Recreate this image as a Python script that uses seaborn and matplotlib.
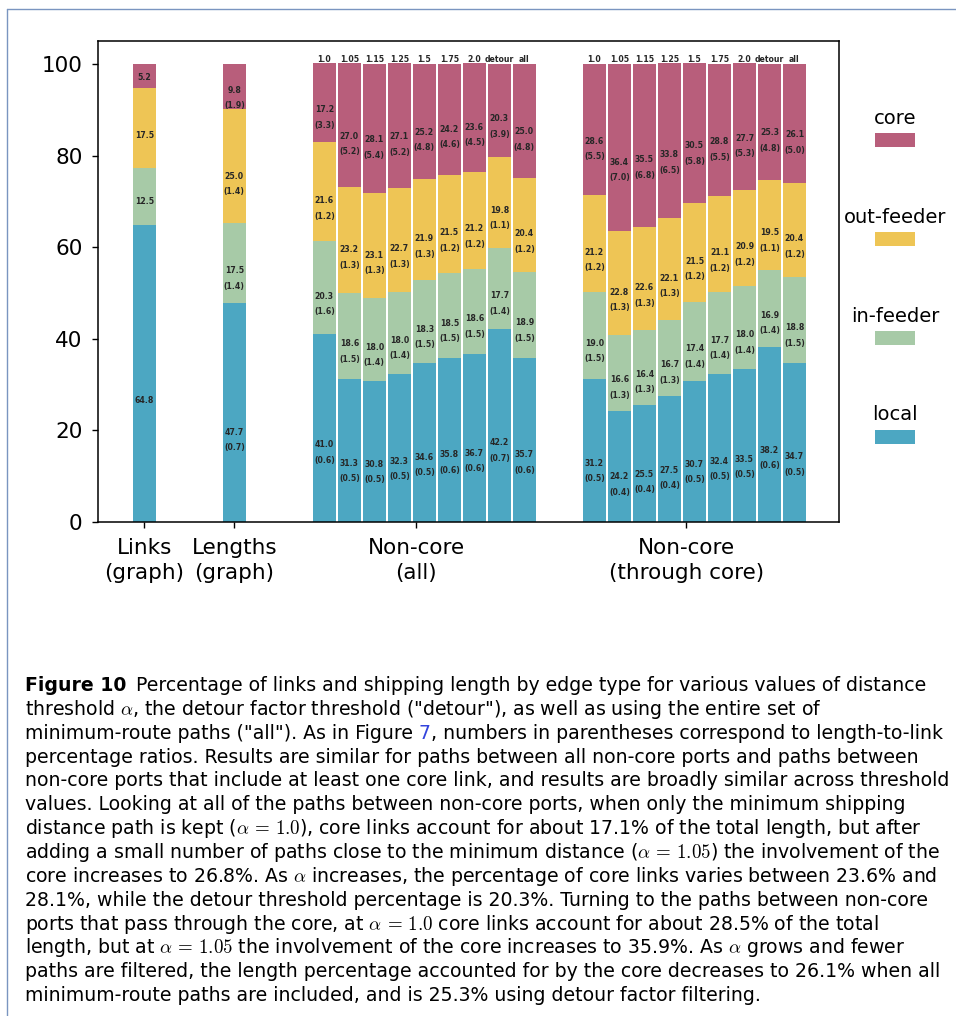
import matplotlib.pyplot as plt
import numpy as np
import pandas as pd
import seaborn as sns
from matplotlib.lines import Line2D
from matplotlib.patches import Rectangle

edge_types = ["local", "in-feeder", "out-feeder", "core"]
edge_colors = ["#4ca7c2", "#a7caa7", "#eec555", "#b85e7b"]

group_labels = ["Links\n(graph)", "Lengths\n(graph)", "Non-core\n(all)", "Non-core\n(through core)"]
thresholds = ["1.0", "1.05", "1.15", "1.25", "1.5", "1.75", "2.0", "detour", "all"]

# graph-level shares (local, in-feeder, out-feeder, core)
links_pct = [64.8, 12.5, 17.5, 5.2]
lengths_pct = [47.7, 17.5, 25.0, 9.8]
lengths_ratio = [0.7, 1.4, 1.4, 1.9]

# paths between all non-core ports
all_local = [41.0, 31.3, 30.8, 32.3, 34.6, 35.8, 36.7, 42.2, 35.7]
all_local_ratio = [0.6, 0.5, 0.5, 0.5, 0.5, 0.6, 0.6, 0.7, 0.6]
all_in = [20.3, 18.6, 18.0, 18.0, 18.3, 18.5, 18.6, 17.7, 18.9]
all_in_ratio = [1.6, 1.5, 1.4, 1.4, 1.5, 1.5, 1.5, 1.4, 1.5]
all_out = [21.6, 23.2, 23.1, 22.7, 21.9, 21.5, 21.2, 19.8, 20.4]
all_out_ratio = [1.2, 1.3, 1.3, 1.3, 1.3, 1.2, 1.2, 1.1, 1.2]
all_core = [17.2, 27.0, 28.1, 27.1, 25.2, 24.2, 23.6, 20.3, 25.0]
all_core_ratio = [3.3, 5.2, 5.4, 5.2, 4.8, 4.6, 4.5, 3.9, 4.8]

# paths between non-core ports through the core
thr_local = [31.2, 24.2, 25.5, 27.5, 30.7, 32.4, 33.5, 38.2, 34.7]
thr_local_ratio = [0.5, 0.4, 0.4, 0.4, 0.5, 0.5, 0.5, 0.6, 0.5]
thr_in = [19.0, 16.6, 16.4, 16.7, 17.4, 17.7, 18.0, 16.9, 18.8]
thr_in_ratio = [1.5, 1.3, 1.3, 1.3, 1.4, 1.4, 1.4, 1.4, 1.5]
thr_out = [21.2, 22.8, 22.6, 22.1, 21.5, 21.1, 20.9, 19.5, 20.4]
thr_out_ratio = [1.2, 1.3, 1.3, 1.3, 1.2, 1.2, 1.2, 1.1, 1.2]
thr_core = [28.6, 36.4, 35.5, 33.8, 30.5, 28.8, 27.7, 25.3, 26.1]
thr_core_ratio = [5.5, 7.0, 6.8, 6.5, 5.8, 5.5, 5.3, 4.8, 5.0]

# bar layout
n_thr = len(thresholds)
all_start, thr_start, tick_shift = 7.2, 18.0, 3.68
positions = np.concatenate([[0.0, 3.6], all_start + np.arange(n_thr), thr_start + np.arange(n_thr)])
tick_pos = [0.0, 3.6, all_start + tick_shift, thr_start + tick_shift]

pct = pd.DataFrame(
    np.vstack([
        [links_pct, lengths_pct],
        np.column_stack([all_local, all_in, all_out, all_core]),
        np.column_stack([thr_local, thr_in, thr_out, thr_core]),
    ]),
    columns=edge_types,
)
ratio = pd.DataFrame(
    np.vstack([
        [[np.nan] * 4, lengths_ratio],
        np.column_stack([all_local_ratio, all_in_ratio, all_out_ratio, all_core_ratio]),
        np.column_stack([thr_local_ratio, thr_in_ratio, thr_out_ratio, thr_core_ratio]),
    ]),
    columns=edge_types,
)
tops = pct.cumsum(axis=1)

sns.set_style("ticks")
plt.rcParams["font.family"] = ["DejaVu Sans"]
plt.rcParams["mathtext.fontset"] = "cm"
plt.rcParams["text.color"] = "black"
plt.rcParams["xtick.color"] = "black"
plt.rcParams["ytick.color"] = "black"
plt.rcParams["axes.edgecolor"] = "black"

W, H = 956, 1016
fig = plt.figure(figsize=(W / 100, H / 100), dpi=100)
ax = fig.add_axes([97.7 / W, 1 - 522 / H, (839 - 97.7) / W, (522 - 41) / H])

# stacked bars: draw cumulative tops from the highest layer down
for etype, color in reversed(list(zip(edge_types, edge_colors))):
    sns.barplot(x=positions, y=tops[etype].values, native_scale=True, width=0.92,
                color=color, saturation=1, errorbar=None, linewidth=0, ax=ax)

lab_kw = dict(ha="center", va="center", fontsize=5.6, fontweight="bold", color="#262626")
for i, x in enumerate(positions):
    for etype in edge_types:
        h = pct.loc[i, etype]
        y = tops.loc[i, etype] - h + 0.41 * h
        ax.text(x, y, f"{h:.1f}", **lab_kw)
        if not np.isnan(ratio.loc[i, etype]):
            ax.text(x, y - 3.4, f"({ratio.loc[i, etype]:.1f})", **lab_kw)
    if i >= 2:
        ax.text(x, 101, thresholds[(i - 2) % n_thr], **lab_kw)

ax.set_xlim(-1.86, 27.78)
ax.set_ylim(0, 105)
ax.set_yticks([0, 20, 40, 60, 80, 100])
ax.set_xticks(tick_pos)
ax.set_xticklabels(group_labels, linespacing=1.3)
ax.tick_params(labelsize=15.5, length=4.5, width=1)
ax.tick_params(axis="x", pad=7)
ax.tick_params(axis="y", pad=6.5)
for side in ["top", "right", "left", "bottom"]:
    ax.spines[side].set_visible(True)
    ax.spines[side].set_linewidth(1.1)

# legend: label above a colour swatch
def fxy(px, py):
    return px / W, 1 - py / H

for k, (etype, color) in enumerate(reversed(list(zip(edge_types, edge_colors)))):
    ty = 118 + 99 * k
    fig.text(*fxy(895, ty), etype, ha="center", va="center", fontsize=14)
    fig.add_artist(Rectangle(fxy(875, ty + 29), 40 / W, 14 / H, transform=fig.transFigure,
                             facecolor=color, edgecolor="none"))

# page border
border = "#7a95c0"
fig.add_artist(Line2D([7 / W, 1], [1 - 9 / H] * 2, color=border, lw=1, transform=fig.transFigure))
fig.add_artist(Line2D([7 / W] * 2, [0, 1 - 9 / H], color=border, lw=1, transform=fig.transFigure))

# caption
cap_font = dict(fontsize=13.6, family="DejaVu Sans")
cap_kw = dict(va="baseline", color="black", **cap_font)
caption = [
    None,
    r'threshold $\alpha$, the detour factor threshold ("detour"), as well as using the entire set of',
    None,
    "percentage ratios. Results are similar for paths between all non-core ports and paths between",
    "non-core ports that include at least one core link, and results are broadly similar across threshold",
    "values. Looking at all of the paths between non-core ports, when only the minimum shipping",
    r"distance path is kept ($\alpha\,=\,1.0$), core links account for about 17.1% of the total length, but after",
    r"adding a small number of paths close to the minimum distance ($\alpha\,=\,1.05$) the involvement of the",
    r"core increases to 26.8%. As $\alpha$ increases, the percentage of core links varies between 23.6% and",
    "28.1%, while the detour threshold percentage is 20.3%. Turning to the paths between non-core",
    r"ports that pass through the core, at $\alpha\,=\,1.0$ core links account for about 28.5% of the total",
    r"length, but at $\alpha\,=\,1.05$ the involvement of the core increases to 35.9%. As $\alpha$ grows and fewer",
    "paths are filtered, the length percentage accounted for by the core decreases to 26.1% when all",
    "minimum-route paths are included, and is 25.3% using detour factor filtering.",
]
x0, y0, dy = 25, 691, 23.85
for k, line in enumerate(caption):
    if line is not None:
        fig.text(*fxy(x0, y0 + dy * k), line, **cap_kw)

t = fig.text(*fxy(x0, y0), "Figure 10", fontweight="bold", **cap_kw)
ax.annotate("Percentage of links and shipping length by edge type for various values of distance",
            xy=(1, 0), xycoords=t, xytext=(7, 0), textcoords="offset points",
            va="bottom", ha="left", **cap_font)

t = fig.text(*fxy(x0, y0 + dy * 2), 'minimum-route paths ("all"). As in Figure', **cap_kw)
t = ax.annotate("7", xy=(1, 0), xycoords=t, xytext=(4.3, 0), textcoords="offset points",
                va="bottom", ha="left", color="#3344dd", **cap_font)
ax.annotate(", numbers in parentheses correspond to length-to-link", xy=(1, 0), xycoords=t,
            textcoords="offset points", xytext=(0, 0), va="bottom", ha="left", **cap_font)

fig.savefig("out.png", dpi=100)
